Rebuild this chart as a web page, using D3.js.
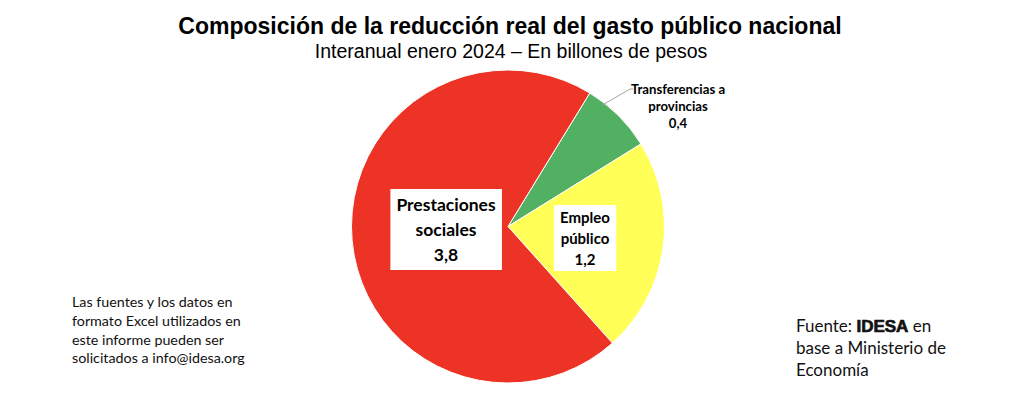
<!DOCTYPE html>
<html>
<head>
<meta charset="utf-8">
<script src="https://cdn.jsdelivr.net/npm/d3@7"></script>
<style>
  body { margin: 0; background: #fff; }
  svg { display: block; }
</style>
</head>
<body>
<div id="chart"></div>
<script>
// data
const categories = ["Transferencias a provincias", "Empleo público", "Prestaciones sociales"];
const values = [0.4, 1.2, 3.8];
const valueLabels = ["0,4", "1,2", "3,8"];
const colors = ["#52b062", "#ffff57", "#ec3325"];

const width = 1024;
const height = 394;
const cx = 508, cy = 226.5, radius = 156.5;

const svg = d3.select("#chart")
  .append("svg")
  .attr("width", width)
  .attr("height", height);

// title
svg.append("text")
  .attr("x", 510).attr("y", 34)
  .attr("text-anchor", "middle")
  .style("font-family", "Liberation Sans, Arial, sans-serif")
  .style("font-weight", "bold")
  .style("font-size", "23px")
  .text("Composición de la reducción real del gasto público nacional");

svg.append("text")
  .attr("x", 511).attr("y", 58)
  .attr("text-anchor", "middle")
  .style("font-family", "Liberation Sans, Arial, sans-serif")
  .style("font-size", "19.5px")
  .text("Interanual enero 2024 – En billones de pesos");

// pie
const pie = d3.pie().sort(null).value(d => d)
  .startAngle(31.5 * Math.PI / 180)
  .endAngle(31.5 * Math.PI / 180 + 2 * Math.PI);
const arc = d3.arc().innerRadius(0).outerRadius(radius);
const arcs = pie(values);

const g = svg.append("g").attr("transform", `translate(${cx},${cy})`);

g.selectAll("path")
  .data(arcs)
  .enter().append("path")
  .attr("d", arc)
  .attr("fill", (d, i) => colors[i])
  .attr("stroke", "#fff")
  .attr("stroke-width", 1);

// labels
const labelFont = "Lato, 'Open Sans', sans-serif";

function boxLabel(lines, x, y, lineH, size, padX, padY) {
  const grp = svg.append("g");
  const txt = grp.append("text")
    .attr("text-anchor", "middle")
    .style("font-family", labelFont)
    .style("font-weight", "bold")
    .style("font-size", size + "px");
  lines.forEach((l, i) => {
    txt.append("tspan").attr("x", x).attr("y", y + i * lineH).text(l);
  });
  const bb = txt.node().getBBox();
  grp.insert("rect", "text")
    .attr("x", bb.x - padX).attr("y", bb.y - padY)
    .attr("width", bb.width + 2 * padX)
    .attr("height", bb.height + 2 * padY)
    .attr("fill", "#fff");
}

boxLabel(["Prestaciones", "sociales", valueLabels[2]], 446, 211, 25, 17.5, 6, 5);
boxLabel(["Empleo", "público", valueLabels[1]], 585, 223, 21, 15, 6, 3);

// outside label for the small slice
const tx = 678;
const tlines = ["Transferencias a", "provincias", valueLabels[0]];
const tt = svg.append("text")
  .attr("text-anchor", "middle")
  .style("font-family", labelFont)
  .style("font-weight", "bold")
  .style("font-size", "13.2px");
tlines.forEach((l, i) => {
  tt.append("tspan").attr("x", tx).attr("y", 94 + i * 17.2).text(l);
});

// leader line from slice edge to label
const mid = (arcs[0].startAngle + arcs[0].endAngle) / 2;
const ex = cx + Math.sin(mid - 0.12) * (radius - 2);
const ey = cy - Math.cos(mid - 0.12) * (radius - 2);
svg.append("polyline")
  .attr("points", `${ex},${ey} 630,89 633,89`)
  .attr("fill", "none")
  .attr("stroke", "#a6a6a6")
  .attr("stroke-width", 1);

// notes
const note = svg.append("text")
  .style("font-family", labelFont)
  .style("font-size", "14.3px")
  .attr("fill", "#111");
["Las fuentes y los datos en", "formato Excel utilizados en", "este informe pueden ser", "solicitados a info@idesa.org"]
  .forEach((l, i) => note.append("tspan").attr("x", 72).attr("y", 307 + i * 18.8).text(l));

const src = svg.append("text")
  .style("font-family", labelFont)
  .style("font-size", "17px")
  .attr("fill", "#111");
const s1 = src.append("tspan").attr("x", 796).attr("y", 332);
s1.append("tspan").text("Fuente: ");
s1.append("tspan")
  .style("font-family", "Liberation Sans, Arial, sans-serif")
  .style("font-weight", "900")
  .style("font-size", "17px")
  .style("stroke", "#111").style("stroke-width", 0.7)
  .text("IDESA");
s1.append("tspan").text(" en");
src.append("tspan").attr("x", 796).attr("y", 354).text("base a Ministerio de");
src.append("tspan").attr("x", 796).attr("y", 376).text("Economía");
</script>
</body>
</html>
